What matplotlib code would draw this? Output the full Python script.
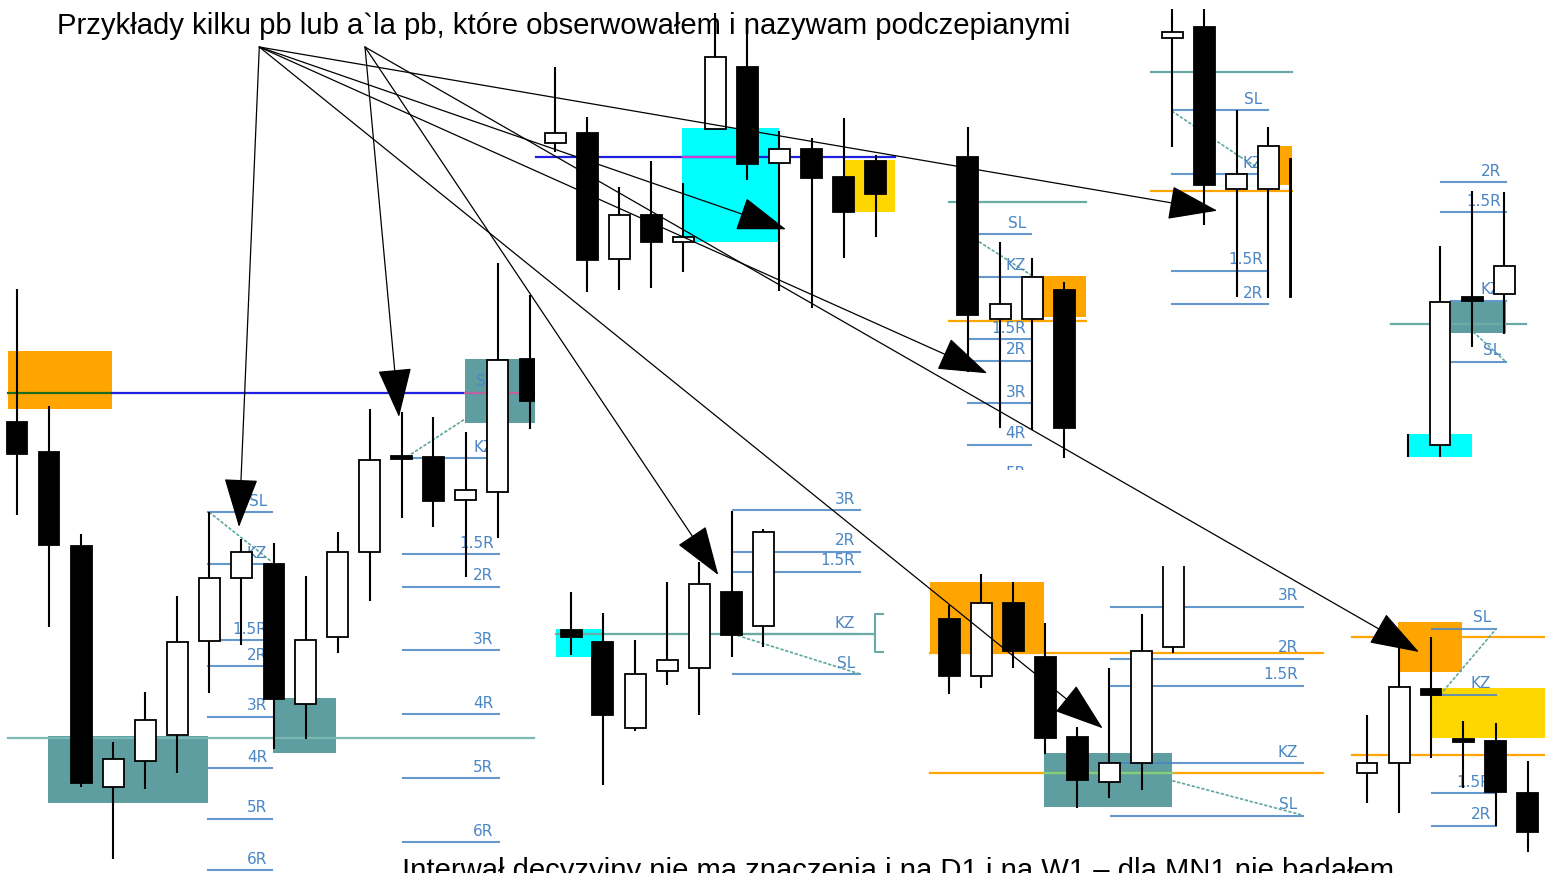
import matplotlib.pyplot as plt
from matplotlib.patches import Rectangle, FancyArrowPatch

W, H = 1545, 873

title = "Przykłady kilku pb lub a`la pb, które obserwowałem i nazywam podczepianymi"
footer = "Interwał decyzyjny nie ma znaczenia i na D1 i na W1 – dla MN1 nie badałem"

# every chart is a screenshot, values are read in screen units (smaller = higher price)
# panel A - big chart on the left
a_x = [16.9, 48.9, 81.3, 113.3, 145.3, 177.4, 209.4, 241.4, 273.8, 305.5, 337.5, 369.6, 401.7, 433.3, 465.7, 497.7, 530]
a_open = [421.7, 451.7, 545.7, 786.7, 760.7, 735, 640.7, 578.3, 564, 704, 636.7, 552.3, 455.7, 457.3, 500, 492.3, 359.3]
a_close = [454.3, 545, 783.3, 758.7, 720, 642.3, 578.3, 552.3, 699, 640, 551.7, 460, 459, 500.7, 490, 360, 401]
a_high = [289, 405.7, 534, 742.3, 691.7, 595.7, 511.7, 539.3, 543.3, 576, 531.7, 409.3, 412, 417.3, 431.7, 263.3, 295]
a_low = [515, 626.7, 787.3, 859.3, 789.3, 773.3, 692.7, 645, 749.3, 739.3, 653.3, 601, 518, 526.7, 576.7, 538.3, 429]

# panel B - top middle
b_x = [555, 587, 619, 651.3, 683.3, 715.3, 747.3, 779.3, 811.7, 843.7, 875.7]
b_open = [143.3, 132.7, 259.3, 215, 241.7, 129.3, 66.7, 163.3, 149, 176.7, 160.7]
b_close = [133.3, 260, 215, 242.3, 237, 56.7, 164.3, 149, 177.7, 212.3, 194]
b_high = [66.7, 116.7, 186.7, 160.7, 182.7, 13.3, 20, 131, 138.3, 118.3, 155]
b_low = [151.7, 292.3, 290, 288.3, 272.3, 129.3, 180, 290.7, 308, 258.3, 236.7]

# panel C - middle top right
c_x = [967.7, 1000.3, 1032.3, 1064.3]
c_open = [157.3, 319.3, 319.3, 290]
c_close = [315, 304.3, 276.7, 428.3]
c_high = [127.3, 241.7, 257.7, 282.3]
c_low = [372, 428.3, 430, 458.3]

# panel D - top right
d_x = [1172.3, 1204.3, 1236.7, 1268.3, 1300.5]
d_open = [38.3, 27.3, 189, 189, 159.3]
d_close = [31.7, 185, 174.3, 146, 296.7]
d_high = [9.3, 9.3, 110, 126.7, 150]
d_low = [146.7, 225, 296.7, 298.3, 300]

# panel E - far right middle
e_x = [1408, 1440, 1472.3, 1504.3]
e_open = [465, 445, 297.3, 294.3]
e_close = [520, 302.3, 301, 266]
e_high = [434, 245.7, 190.7, 191.7]
e_low = [540, 456.7, 346.7, 334.3]

# panel F - bottom middle
f_x = [571, 602.7, 635, 667, 699, 731.7, 763.3]
f_open = [630, 641.7, 728.3, 670.7, 668.3, 591.7, 626]
f_close = [636.7, 715, 674, 660, 584, 635, 531.7]
f_high = [591.7, 613.3, 640, 581.7, 561.7, 511, 529.3]
f_low = [655, 785, 730.7, 685, 715, 656.7, 646.7]

# panel G - bottom right middle
g_x = [949, 981, 1013, 1045.3, 1077.3, 1109.3, 1141.7, 1173.3]
g_open = [619, 675.7, 602.7, 657.3, 737.3, 781.7, 762.7, 647.3]
g_close = [676, 603.3, 651, 737.7, 780, 763.3, 650.7, 540]
g_high = [605, 574.3, 582.3, 622.7, 726.7, 668.3, 614.3, 520]
g_low = [694, 687.7, 667.7, 754, 808.3, 798.3, 790, 653.3]

# panel H - bottom right
h_x = [1367, 1399.3, 1431, 1463.3, 1495.7, 1527.7]
h_open = [773.3, 763.3, 689.3, 739, 740.7, 792.7]
h_close = [763.3, 687.3, 695, 741.7, 791.7, 831.7]
h_high = [715, 645, 636.7, 720.7, 722.7, 761]
h_low = [803.3, 813.3, 757.7, 788.3, 825.7, 851.7]

# zones: x0, x1, y0, y1, colour
zones = [
    (8, 112, 351, 409, "#ffa500"), (465, 540, 359.3, 422.7, "#5f9ea0"),
    (47.5, 208.3, 736, 803.3, "#5f9ea0"), (273, 336.4, 697.7, 753.3, "#5f9ea0"),
    (682.3, 779.3, 128.3, 242.3, "#00ffff"), (845, 895, 160, 212.3, "#ffd700"),
    (1043.3, 1085.7, 275.7, 316.7, "#ffa500"), (1279.3, 1291.7, 145.7, 185, "#ffa500"),
    (1451, 1506, 301.7, 332.7, "#5f9ea0"), (1406.7, 1471.7, 434, 457, "#00ffff"),
    (556, 602.7, 629.3, 656.7, "#00ffff"),
    (930, 1044.3, 582.3, 651.7, "#ffa500"), (1044.3, 1172.3, 752.7, 806.7, "#5f9ea0"),
    (1398.3, 1462.3, 622.3, 671.7, "#ffa500"), (1432.3, 1545, 688.3, 737.7, "#ffd700"),
]

# plain horizontal lines: y, x0, x1, colour
hlines = [
    (392.7, 8, 112, "#1e6b1e"), (392.7, 112, 465, "#2020e0"), (392.7, 465, 534, "#c060a0"),
    (738.3, 8, 534, "#7ab8b4"),
    (157.3, 536, 895, "#2020e0"), (157.3, 683, 740, "#d040d0"),
    (201.7, 949, 1086, "#6aaba6"), (320.7, 949, 1086, "#ffa500"),
    (71.7, 1151, 1292, "#6aaba6"), (190.7, 1151, 1292, "#ffa500"),
    (324, 1391, 1526, "#6aaba6"),
    (634, 556, 875, "#6aaba6"),
    (653.3, 930, 1323, "#ffa500"), (773.3, 930, 1323, "#ffa500"), (773.3, 1044, 1172, "#7fd07f"),
    (636.7, 1351.7, 1545, "#ffa500"), (755, 1351.7, 1545, "#ffa500"),
]

# level lines of each setup: x0, x1, y levels, labels
levels = [
    (208.3, 272, [512.3, 564, 640, 666, 716.7, 768.3, 819, 870], ["SL", "KZ", "1.5R", "2R", "3R", "4R", "5R", "6R"]),
    (403, 498.6, [554, 586.7, 650.3, 714.3, 778.3, 842.3], ["1.5R", "2R", "3R", "4R", "5R", "6R"]),
    (412, 499, [393, 458.3], ["SL", "KZ"]),
    (979, 1031, [234.3, 276.7], ["SL", "KZ"]),
    (968.3, 1031, [339.3, 360.7, 403.3, 445, 485], ["1.5R", "2R", "3R", "4R", "5R"]),
    (1171.7, 1267.7, [110, 174, 270.7, 304], ["SL", "KZ", "1.5R", "2R"]),
    (1441, 1506, [182.3, 212.3], ["2R", "1.5R"]),
    (1451, 1506, [301, 361.7], ["KZ", "SL"]),
    (732.7, 860, [510, 551.7, 571.7, 634, 674], ["3R", "2R", "1.5R", "KZ", "SL"]),
    (1110.7, 1302.7, [606.7, 659, 685.7, 763.3, 815.7], ["3R", "2R", "1.5R", "KZ", "SL"]),
    (1432.3, 1496, [629, 695, 793.3, 825.7], ["SL", "KZ", "1.5R", "2R"]),
]

# dashed trend lines from entry to stop
trends = [
    ((209, 512), (272, 562)), ((406.7, 457), (465, 419)), ((979, 241.7), (1031, 275)),
    ((1171.7, 111), (1240, 156.7)), ((1240, 156.7), (1268, 174)), ((1473, 331.7), (1505, 361)),
    ((732.7, 634), (860, 674)), ((1172.3, 780.7), (1302, 815)), ((1440, 695), (1496, 629)),
]

# pointers from the title
arrows = [
    ((259.3, 47), (239, 527)), ((259.3, 47), (1217.3, 210.7)), ((259.3, 47), (786, 229.3)),
    ((259.3, 47), (987.3, 373.3)), ((259.3, 47), (1102.7, 728.3)),
    ((365, 47), (399, 417)), ((365, 47), (718.3, 575)), ((365, 47), (1419, 652)),
]

fig = plt.figure(figsize=(W / 100, H / 100), dpi=100)
ax = fig.add_axes([0, 0, 1, 1])
ax.set_xlim(0, W)
ax.set_ylim(H, 0)
ax.axis("off")


def clipbox(box):
    if box is None:
        return None
    x0, x1, y0, y1 = box
    return Rectangle((x0, y0), x1 - x0, y1 - y0, transform=ax.transData)


def candles(xs, op, cl, hi, lo, w=20.7, box=None):
    cp = clipbox(box)
    for x, o, c, h, l in zip(xs, op, cl, hi, lo):
        ln, = ax.plot([x, x], [h, l], color="black", lw=1.5, zorder=4, solid_capstyle="butt")
        bear = c > o
        top, bot = min(o, c), max(o, c)
        r = Rectangle((x - w / 2, top), w, max(bot - top, 2.5), facecolor="black" if bear else "white",
                      edgecolor="black", lw=1.3, zorder=5)
        ax.add_patch(r)
        if cp is not None:
            ln.set_clip_path(cp)
            r.set_clip_path(cp)


for x0, x1, y0, y1, col in zones:
    p = Rectangle((x0, y0), x1 - x0, y1 - y0, facecolor=col, edgecolor="none", zorder=1)
    ax.add_patch(p)
    p.set_clip_path(clipbox((0, 534.5, 0, H)) if x0 < 534 else clipbox((0, W, 0, H)))

for y, x0, x1, col in hlines:
    ax.plot([x0, x1], [y, y], color=col, lw=1.6, zorder=2.5)

lvl_col = "#4a86c4"
c_box = clipbox((940, 1090, 120, 470))
for x0, x1, ys, labs in levels:
    for y, lab in zip(ys, labs):
        ln, = ax.plot([x0, x1], [y, y], color=lvl_col, lw=1.5, alpha=0.85, zorder=2)
        t = ax.text(x1 - 5, y - 6.5, lab, color=lvl_col, fontsize=11, family="DejaVu Sans",
                    ha="right", va="baseline", zorder=3)
        if x0 > 960 and x1 < 1040:
            ln.set_clip_path(c_box)
            t.set_clip_path(c_box)
            t.set_clip_on(True)

for (xa, ya), (xb, yb) in trends:
    ax.plot([xa, xb], [ya, yb], color="#5fa8a0", lw=1.2, ls=(0, (2, 1)), zorder=2.6)

# small bracket at the right of panel F
ax.plot([883, 875, 875, 883], [614.3, 614.3, 651.7, 651.7], color="#6aaba6", lw=1.5, zorder=2)

candles(a_x, a_open, a_close, a_high, a_low, w=20.5, box=(0, 534.5, 0, H))
candles(b_x, b_open, b_close, b_high, b_low, w=21)
candles(c_x, c_open, c_close, c_high, c_low, w=21.5, box=(940, 1090, 120, 470))
candles(d_x, d_open, d_close, d_high, d_low, w=20.5, box=(1140, 1292, 0, H))
candles(e_x, e_open, e_close, e_high, e_low, w=20.7, box=(1380, W, 150, 457))
candles(f_x, f_open, f_close, f_high, f_low, w=21)
candles(g_x, g_open, g_close, g_high, g_low, w=21, box=(920, 1330, 566, H))
candles(h_x, h_open, h_close, h_high, h_low, w=20.7)

for a, b in arrows:
    ar = FancyArrowPatch(a, b, arrowstyle="-|>,head_length=1.6,head_width=0.55", mutation_scale=20,
                         color="black", lw=0.9, shrinkA=0, shrinkB=0, zorder=8)
    ax.add_patch(ar)

ax.text(57, 34, title, fontsize=21.1, family="Liberation Sans", ha="left", va="baseline", zorder=9)
ax.text(402, 879, footer, fontsize=21.1, family="Liberation Sans", ha="left", va="baseline", zorder=9)

fig.savefig("out.png", dpi=100)
